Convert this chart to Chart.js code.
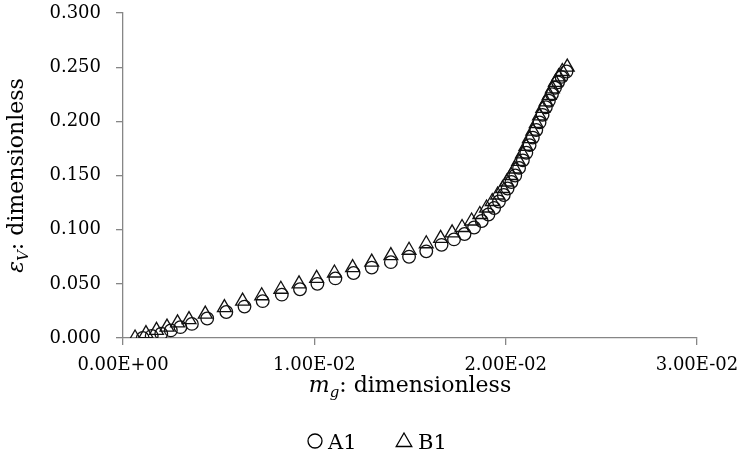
<!DOCTYPE html>
<html><head><meta charset="utf-8">
<script src="https://cdn.jsdelivr.net/npm/chart.js@4/dist/chart.umd.min.js"></script>
<style>html,body{margin:0;padding:0;background:#fff;}#wrap{width:740px;height:455px;}</style>
</head><body><div id="wrap"><canvas id="c" width="740" height="455"></canvas></div>
<script>
// ---- data ----
const seriesNames = ['A1', 'B1'];
const a1X = [0.00103,0.00150,0.00200,0.00250,0.00300,0.00360,0.00440,0.00540,0.00635,0.00730,0.00830,0.00925,0.01016,0.01110,0.01205,0.01300,0.01400,0.01495,0.01585,0.01665,0.01730,0.01785,0.01835,0.01875,0.01910,0.01940,0.01965,0.01990,0.02010,0.02030,0.02050,0.02070,0.02090,0.02108,0.02125,0.02142,0.02160,0.02177,0.02193,0.02210,0.02226,0.02242,0.02258,0.02274,0.02292,0.02318];
const a1Y = [0.000,0.002,0.004,0.007,0.010,0.013,0.018,0.024,0.029,0.034,0.040,0.045,0.050,0.055,0.060,0.065,0.070,0.075,0.080,0.086,0.091,0.096,0.102,0.108,0.114,0.120,0.126,0.132,0.138,0.144,0.150,0.157,0.164,0.171,0.178,0.185,0.192,0.199,0.206,0.213,0.219,0.225,0.231,0.236,0.241,0.246];
const b1X = [0.00063,0.00120,0.00175,0.00230,0.00285,0.00345,0.00430,0.00530,0.00625,0.00725,0.00825,0.00920,0.01012,0.01105,0.01200,0.01300,0.01400,0.01495,0.01585,0.01660,0.01720,0.01772,0.01822,0.01865,0.01900,0.01930,0.01958,0.01984,0.02006,0.02028,0.02048,0.02068,0.02088,0.02106,0.02124,0.02142,0.02160,0.02177,0.02194,0.02211,0.02228,0.02244,0.02260,0.02277,0.02296,0.02322];
const b1Y = [0.000,0.004,0.007,0.010,0.014,0.017,0.022,0.028,0.034,0.039,0.045,0.050,0.055,0.060,0.065,0.070,0.076,0.081,0.087,0.092,0.097,0.102,0.108,0.114,0.120,0.126,0.132,0.138,0.144,0.150,0.156,0.163,0.170,0.177,0.184,0.191,0.198,0.205,0.212,0.218,0.224,0.230,0.236,0.241,0.246,0.250];
const xTicks = [0, 0.01, 0.02, 0.03];
const yTicks = [0, 0.05, 0.10, 0.15, 0.20, 0.25, 0.30];

const SERIF = "'DejaVu Serif', serif";
const AXIS_COLOR = '#868686';

function sci(v) {
  if (Math.abs(v) < 1e-15) return '0.00E+00';
  const e = Math.floor(Math.log10(Math.abs(v)) + 1e-9);
  const m = v / Math.pow(10, e);
  return m.toFixed(2) + 'E' + (e < 0 ? '-' : '+') + String(Math.abs(e)).padStart(2, '0');
}
const toPts = (xs, ys) => xs.map((x, i) => ({ x: x, y: ys[i] }));

// rich text helper: parts = [{t, italic, sub}]
function richWidth(ctx, parts, size) {
  let w = 0;
  parts.forEach(p => {
    const s = p.sub ? size * 0.68 : size;
    ctx.font = (p.italic ? 'italic ' : '') + s + 'px ' + SERIF;
    w += ctx.measureText(p.t).width;
  });
  return w;
}
function drawRich(ctx, parts, size, x, y) {
  let cx = x;
  parts.forEach(p => {
    const s = p.sub ? size * 0.68 : size;
    ctx.font = (p.italic ? 'italic ' : '') + s + 'px ' + SERIF;
    ctx.fillText(p.t, cx, p.sub ? y + size * 0.22 : y);
    cx += ctx.measureText(p.t).width;
  });
}

const xTitle = [{ t: 'm', italic: true }, { t: 'g', italic: true, sub: true }, { t: ': dimensionless' }];
const yTitle = [{ t: 'ε', italic: true }, { t: 'V', italic: true, sub: true }, { t: ': dimensionless' }];

const decorPlugin = {
  id: 'decor',
  afterDraw(chart) {
    const ctx = chart.ctx;
    const ca = chart.chartArea;
    ctx.save();
    ctx.fillStyle = '#000';
    ctx.textBaseline = 'alphabetic';
    const tsize = 22;
    // x title
    const wx = richWidth(ctx, xTitle, tsize);
    drawRich(ctx, xTitle, tsize, (ca.left + ca.right) / 2 - wx / 2, 392);
    // y title
    const wy = richWidth(ctx, yTitle, tsize);
    ctx.save();
    ctx.translate(23, (ca.top + ca.bottom) / 2);
    ctx.rotate(-Math.PI / 2);
    drawRich(ctx, yTitle, tsize, -wy / 2, 0);
    ctx.restore();
    // legend
    const lsize = 21;
    ctx.font = lsize + 'px ' + SERIF;
    ctx.strokeStyle = '#000';
    ctx.lineWidth = 1.3;
    const ly = 441;
    // circle item
    ctx.beginPath();
    ctx.arc(315, ly, 7, 0, Math.PI * 2);
    ctx.stroke();
    ctx.fillText(seriesNames[0], 328, ly + 8);
    // triangle item
    const tx = 404, r = 9;
    ctx.beginPath();
    ctx.moveTo(tx, ly - r + 1);
    ctx.lineTo(tx + r * 0.866, ly + r / 2 + 1);
    ctx.lineTo(tx - r * 0.866, ly + r / 2 + 1);
    ctx.closePath();
    ctx.stroke();
    ctx.fillText(seriesNames[1], 418, ly + 8);
    ctx.restore();
  }
};

new Chart(document.getElementById('c'), {
  type: 'scatter',
  data: {
    datasets: [
      { label: seriesNames[0], data: toPts(a1X, a1Y), pointStyle: 'circle', pointRadius: 6.3,
        borderColor: '#111', backgroundColor: 'rgba(0,0,0,0)', borderWidth: 1.3, showLine: false },
      { label: seriesNames[1], data: toPts(b1X, b1Y), pointStyle: 'triangle', pointRadius: 8,
        borderColor: '#111', backgroundColor: 'rgba(0,0,0,0)', borderWidth: 1.3, showLine: false }
    ]
  },
  options: {
    responsive: false,
    animation: false,
    devicePixelRatio: 1,
    layout: { padding: { left: 0, right: 43, top: 13, bottom: 0 } },
    plugins: { legend: { display: false }, tooltip: { enabled: false }, title: { display: false } },
    scales: {
      x: {
        type: 'linear', min: 0, max: 0.03, position: 'bottom',
        border: { color: AXIS_COLOR, width: 1.3 },
        grid: { drawOnChartArea: false, drawTicks: true, tickLength: 7, color: AXIS_COLOR, lineWidth: 1.3 },
        ticks: { font: { family: SERIF, size: 18 }, color: '#000', padding: 10, maxRotation: 0, autoSkip: false,
                 callback: v => sci(v) },
        afterBuildTicks: s => { s.ticks = xTicks.map(v => ({ value: v })); },
        afterFit: s => { s.height = 117; s.paddingLeft = 0; s.paddingRight = 0; }
      },
      y: {
        type: 'linear', min: 0, max: 0.3, position: 'left',
        border: { color: AXIS_COLOR, width: 1.3 },
        grid: { drawOnChartArea: false, drawTicks: true, tickLength: 7, color: AXIS_COLOR, lineWidth: 1.3 },
        ticks: { font: { family: SERIF, size: 18 }, color: '#000', padding: 15, autoSkip: false,
                 callback: v => v.toFixed(3) },
        afterBuildTicks: s => { s.ticks = yTicks.map(v => ({ value: v })); },
        afterFit: s => { s.width = 123; s.paddingTop = 0; s.paddingBottom = 0; }
      }
    }
  },
  plugins: [decorPlugin]
});
</script></body></html>
